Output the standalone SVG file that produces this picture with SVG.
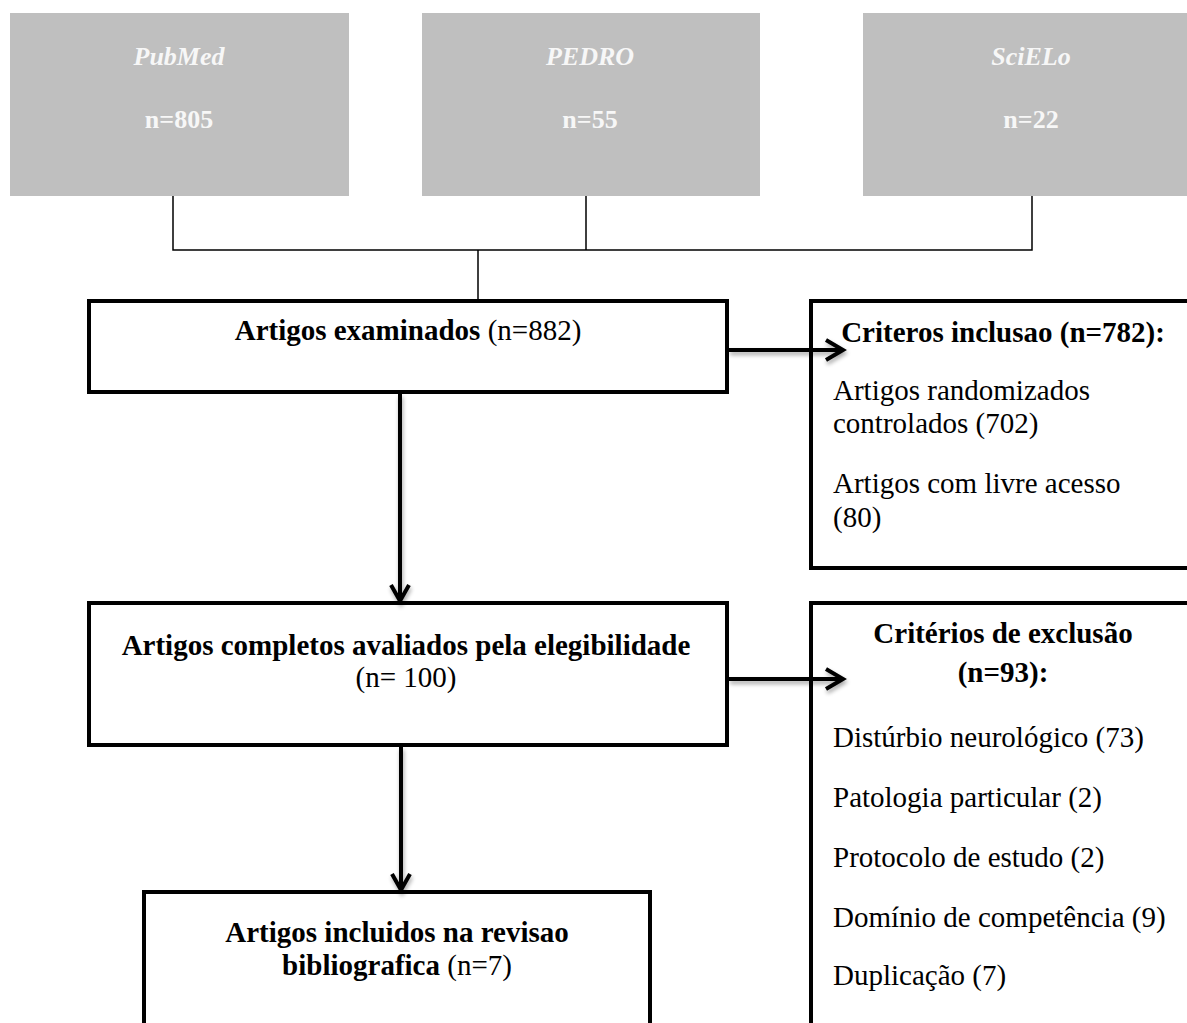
<svg xmlns="http://www.w3.org/2000/svg" width="1187" height="1023" viewBox="0 0 1187 1023">
<style>
text{font-family:"Liberation Serif","Times New Roman",serif;fill:#000}
.src{fill:#bfbfbf;stroke:none}
.srct{fill:#f7f7f7;font-size:26px;font-weight:bold}
.box{fill:#fff;stroke:#000;stroke-width:4}
.t{font-size:29px}
.b{font-weight:bold}
.thin{fill:none;stroke:#000;stroke-width:1.5}
.arr{fill:none;stroke:#000;stroke-width:4}
</style>
<defs>
<filter id="sh" x="-20%" y="-50%" width="140%" height="300%">
<feGaussianBlur in="SourceAlpha" stdDeviation="2"/>
<feOffset dx="1" dy="3"/>
<feComponentTransfer><feFuncA type="linear" slope="0.35"/></feComponentTransfer>
<feMerge><feMergeNode/><feMergeNode in="SourceGraphic"/></feMerge>
</filter>
</defs>
<rect width="1187" height="1023" fill="#fff"/>

<g id="pubmed">
<rect class="src" x="10" y="13" width="339" height="183"/>
<text class="srct" x="179" y="65" text-anchor="middle" font-style="italic">PubMed</text>
<text class="srct" x="179" y="128" text-anchor="middle">n=805</text>
</g>
<g id="pedro">
<rect class="src" x="422" y="13" width="338" height="183"/>
<text class="srct" x="590" y="65" text-anchor="middle" font-style="italic">PEDRO</text>
<text class="srct" x="590" y="128" text-anchor="middle">n=55</text>
</g>
<g id="scielo">
<rect class="src" x="863" y="13" width="340" height="183"/>
<text class="srct" x="1031" y="65" text-anchor="middle" font-style="italic">SciELo</text>
<text class="srct" x="1031" y="128" text-anchor="middle">n=22</text>
</g>

<g id="examinados">
<rect class="box" x="89" y="301" width="638" height="91"/>
<text class="t" x="408" y="340" text-anchor="middle"><tspan class="b">Artigos examinados</tspan> (n=882)</text>
</g>

<g id="inclusao">
<rect class="box" x="811" y="301" width="400" height="267"/>
<text class="t b" x="1003" y="342" text-anchor="middle">Criteros inclusao (n=782):</text>
<text class="t" x="833" y="400">Artigos randomizados</text>
<text class="t" x="833" y="433">controlados (702)</text>
<text class="t" x="833" y="493">Artigos com livre acesso</text>
<text class="t" x="833" y="527">(80)</text>
</g>

<g id="completos">
<rect class="box" x="89" y="603" width="638" height="142"/>
<text class="t b" x="406" y="655" text-anchor="middle">Artigos completos avaliados pela elegibilidade</text>
<text class="t" x="406" y="687" text-anchor="middle">(n= 100)</text>
</g>

<g id="exclusao">
<rect class="box" x="811" y="603" width="400" height="450"/>
<text class="t b" x="1003" y="643" text-anchor="middle">Critérios de exclusão</text>
<text class="t b" x="1003" y="682" text-anchor="middle">(n=93):</text>
<text class="t" x="833" y="747">Distúrbio neurológico (73)</text>
<text class="t" x="833" y="807">Patologia particular (2)</text>
<text class="t" x="833" y="867">Protocolo de estudo (2)</text>
<text class="t" x="833" y="927">Domínio de competência (9)</text>
<text class="t" x="833" y="985">Duplicação (7)</text>
</g>

<g id="incluidos">
<rect class="box" x="144" y="892" width="506" height="160"/>
<text class="t b" x="397" y="942" text-anchor="middle">Artigos incluidos na revisao</text>
<text class="t" x="397" y="975" text-anchor="middle"><tspan class="b">bibliografica</tspan> (n=7)</text>
</g>

<g id="connectors">
<path class="thin" d="M173 196V250H1032V196M586 196V250M478 250V300"/>
<g filter="url(#sh)">
<path class="arr" d="M400 394V601M391 585L400 601L409 585"/>
<path class="arr" d="M401 747V890M392 874L401 890L410 874"/>
<path class="arr" d="M729 350H843M826 340L843 350L826 360"/>
<path class="arr" d="M729 679H843M826 669L843 679L826 689"/>
</g>
</g>
</svg>
